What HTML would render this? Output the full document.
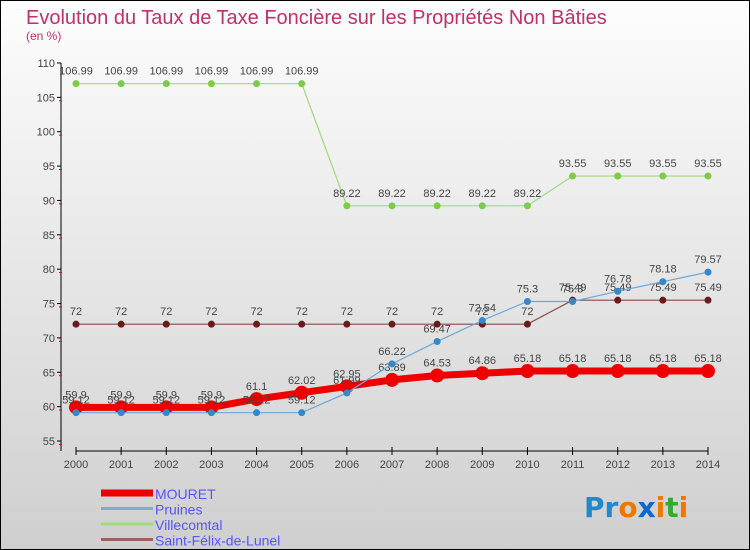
<!DOCTYPE html>
<html><head><meta charset="utf-8"><style>
body{margin:0}
#c{position:relative;width:748px;height:548px;border:1px solid #000;background:linear-gradient(#fdfdfd,#cfcfcf);overflow:hidden;font-family:"Liberation Sans",sans-serif}
</style></head><body>
<div id="c">
<svg id="s" width="748" height="548" xmlns="http://www.w3.org/2000/svg">
<text x="25" y="23" font-size="20" fill="#c0306a">Evolution du Taux de Taxe Foncière sur les Propriétés Non Bâties</text>
<text x="25" y="39" font-size="12" fill="#c0306a">(en %)</text>
<g id="g"></g>
</svg>
</div>
<script>
const years=["2000","2001","2002","2003","2004","2005","2006","2007","2008","2009","2010","2011","2012","2013","2014"];
const yTicks=[55,60,65,70,75,80,85,90,95,100,105,110];
const mouret=[59.9,59.9,59.9,59.9,61.1,62.02,62.95,63.89,64.53,64.86,65.18,65.18,65.18,65.18,65.18];
const pruines=[59.12,59.12,59.12,59.12,59.12,59.12,61.99,66.22,69.47,72.54,75.3,75.3,76.78,78.18,79.57];
const villecomtal=[106.99,106.99,106.99,106.99,106.99,106.99,89.22,89.22,89.22,89.22,89.22,93.55,93.55,93.55,93.55];
const stfelix=[72,72,72,72,72,72,72,72,72,72,72,75.49,75.49,75.49,75.49];
const NS="http://www.w3.org/2000/svg";
const g=document.getElementById('g');
const X=i=>75+i*(632/14);
const Y=v=>440-(v-55)*(378/55);
function el(t,a,p){const e=document.createElementNS(NS,t);for(const k in a)e.setAttribute(k,a[k]);(p||g).appendChild(e);return e;}
let ax=el('line',{x1:60,y1:62,x2:60,y2:450,stroke:'#000'});


let bx=el('line',{x1:75,y1:450,x2:707,y2:450,stroke:'#000'});


yTicks.forEach(v=>{
 const y=Y(v);
 el('line',{x1:56,y1:y,x2:60,y2:y,stroke:'#000'});
 const t=el('text',{x:54,y:y+4,'font-size':11,'text-anchor':'end',fill:'#444'});t.textContent=v;
 
 
 if(v<110){const m=el('line',{x1:58,y1:y+3.4,x2:61,y2:y+3.4,stroke:'#e00'});}
});
years.forEach((yr,i)=>{
 el('line',{x1:X(i),y1:446,x2:X(i),y2:454,stroke:'#000'});
 const t=el('text',{x:X(i),y:467,'font-size':11,'text-anchor':'middle',fill:'#444'});t.textContent=yr;
 
 
});
function series(d,color,w,r,name,dot){
 const p=el('polyline',{points:d.map((v,i)=>X(i)+','+Y(v)).join(' '),fill:'none',stroke:color,'stroke-width':w});
 
 
 d.forEach((v,i)=>{
  const c=el('circle',{cx:X(i),cy:Y(v),r:r,fill:dot});
  
  
  const t=el('text',{x:X(i),y:Y(v)-9,'font-size':11,'text-anchor':'middle',fill:'#444'});t.textContent=v;
  
  
 });
}
series(villecomtal,'#9edb7a',1.2,3.5,'villecomtal','#7ccc44');
series(stfelix,'#8a4a4a',1.2,3.5,'saint-felix','#6b1a1a');
series(mouret,'#ee0000',7,7,'mouret','#ee0000');
series(pruines,'#6aa8d8',1.2,3.5,'pruines','#3388cc');
const leg=[["MOURET","#ee0000",7],["Pruines","#7aaed0",3],["Villecomtal","#9edb7a",3],["Saint-Félix-de-Lunel","#9a6060",3]];
leg.forEach((l,i)=>{
 const y=492+i*15.5;
 el('line',{x1:100,y1:y,x2:152,y2:y,stroke:l[1],'stroke-width':l[2]});
 const t=el('text',{x:154,y:y+6,'font-size':14,fill:'#5555ff'});t.textContent=l[0];
 
 
});
const lg=el('text',{x:583,y:516,'font-size':28,'font-weight':'bold','font-family':'DejaVu Sans, sans-serif'});


[["Pr","#2288cc"],["o","#ee7700"],["x","#1166cc"],["i","#ee7700"],["t","#33aa33"],["i","#ee7700"]].forEach(a=>{const s=el('tspan',{fill:a[1]},lg);s.textContent=a[0];});
</script>
</body></html>
